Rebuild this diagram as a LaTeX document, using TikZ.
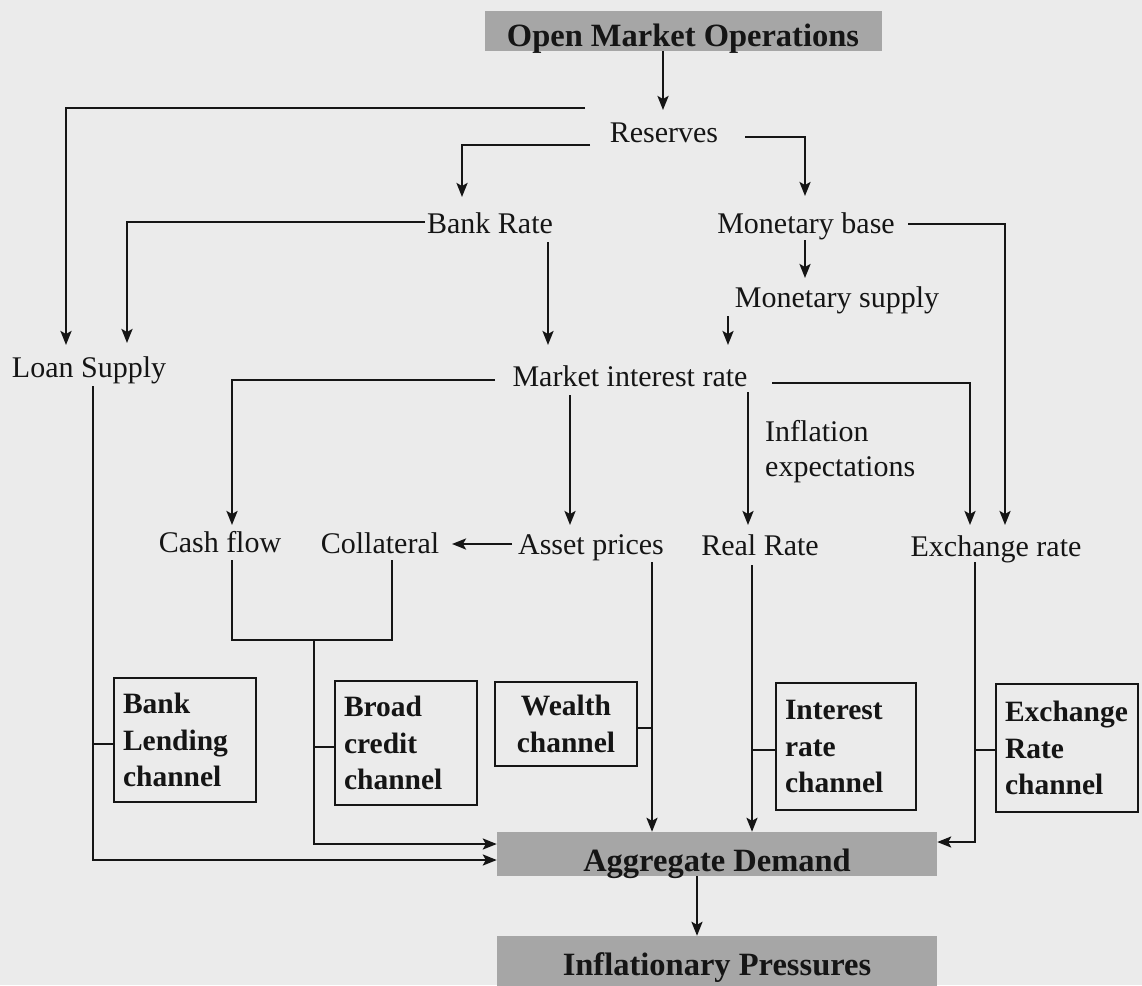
\documentclass[tikz,border=0pt]{standalone}
\usepackage{fontspec}
\setmainfont{Liberation Serif}
\usetikzlibrary{arrows.meta}
\definecolor{paper}{HTML}{EBEBEB}
\definecolor{boxgray}{HTML}{A6A6A6}
\definecolor{ink}{HTML}{151515}
\tikzset{
 lbl/.style={inner sep=0pt, anchor=base, font=\fontsize{30}{35}\selectfont, text=ink},
 graybox/.style={fill=boxgray, draw=none, inner xsep=0pt, inner ysep=0pt, text depth=0pt, font=\bfseries\fontsize{32.5}{38}\selectfont, text=ink},
 chan/.style={draw=ink, line width=2.8pt, inner xsep=9pt, inner ysep=0pt, align=left, font=\bfseries\fontsize{29.5}{36.5}\selectfont, text=ink},
 conn/.style={draw=ink, line width=2.4pt},
 arr/.style={conn, -{Stealth[length=14pt,width=11pt,inset=3pt]}},
}
\begin{document}
\begin{tikzpicture}[x=1pt,y=-1pt]
\fill[paper] (0,0) rectangle (1142,985);
\useasboundingbox (0,0) rectangle (1142,985);

% gray boxes
\node[graybox, minimum width=397pt, minimum height=40pt, text height=31pt] (omo) at (683,31) {Open Market Operations};
\node[graybox, minimum width=440pt, minimum height=44pt, text height=34pt] (ad) at (717,854) {Aggregate Demand};
\node[graybox, minimum width=440pt, minimum height=58pt, text height=20pt] (ip) at (717,965) {Inflationary Pressures};

% text nodes
\node[lbl] (res) at (664,142) {Reserves};
\node[lbl] (bank) at (490,233) {Bank Rate};
\node[lbl] (mbase) at (806,233) {Monetary base};
\node[lbl] (msup) at (837,307) {Monetary supply};
\node[lbl] (loan) at (89,377) {Loan Supply};
\node[lbl] (mir) at (630,386) {Market interest rate};
\node[lbl, anchor=west, align=left] (infl) at (765,452) {Inflation\\expectations};
\node[lbl] (cash) at (220,552) {Cash flow};
\node[lbl] (coll) at (380,553) {Collateral};
\node[lbl] (asset) at (591,554) {Asset prices};
\node[lbl] (real) at (760,555) {Real Rate};
\node[lbl] (exch) at (996,556) {Exchange rate};

% channel boxes
\node[chan, minimum width=142pt, minimum height=124pt, text width=124pt] (blc) at (185,740) {Bank\\Lending\\channel};
\node[chan, minimum width=142pt, minimum height=124pt, text width=124pt] (bcc) at (406,743) {Broad\\credit\\channel};
\node[chan, minimum width=142pt, minimum height=84pt, text width=124pt, align=center] (wc) at (566,724) {Wealth\\channel};
\node[chan, minimum width=140pt, minimum height=127pt, text width=122pt] (irc) at (846,746.5) {Interest\\rate\\channel};
\node[chan, minimum width=142pt, minimum height=128pt, text width=124pt] (erc) at (1067,748) {Exchange\\Rate\\channel};

\coordinate (bj) at (314,640);

% connectors
\draw[arr] ([xshift=-20pt]omo.south) -- ([shift={(-1,-32)}]res.base);
\draw[arr] ([shift={(-79,-34)}]res.base) -| ([shift={(-23,-32)}]loan.base);
\draw[arr] ([shift={(-74,3)}]res.base) -| ([shift={(-28,-36)}]bank.base);
\draw[arr] ([shift={(81,-5)}]res.base) -| ([shift={(-1,-37)}]mbase.base);
\draw[arr] ([shift={(-65,-11)}]bank.base) -| ([shift={(38,-34)}]loan.base);
\draw[arr] ([shift={(58,9)}]bank.base) -- ([shift={(-82,-41)}]mir.base);
\draw[arr] ([shift={(-1,7)}]mbase.base) -- ([shift={(-32,-29)}]msup.base);
\draw[arr] ([shift={(102,-9)}]mbase.base) -| ([shift={(9,-31)}]exch.base);
\draw[arr] ([shift={(-109,9)}]msup.base) -- ([shift={(98,-41)}]mir.base);
\draw[arr] ([shift={(-135,-6)}]mir.base) -| ([shift={(12,-27)}]cash.base);
\draw[arr] ([shift={(-60,9)}]mir.base) -- ([shift={(-21,-29)}]asset.base);
\draw[arr] ([shift={(118,6)}]mir.base) -- ([shift={(-12,-30)}]real.base);
\draw[arr] ([shift={(142,-3)}]mir.base) -| ([shift={(-26,-31)}]exch.base);
\draw[arr] ([shift={(-79,-10)}]asset.base) -- ([shift={(72,-9)}]coll.base);
\draw[conn] ([shift={(12,8)}]cash.base) |- ([shift={(12,87)}]coll.base) -- ([shift={(12,7)}]coll.base);
\draw[arr] (bj) |- ([yshift=10pt]ad.west);
\draw[arr] ([shift={(4,9)}]loan.base) |- ([yshift=-6pt]ad.west);
\draw[arr] ([shift={(61,8)}]asset.base) -- ([xshift=-65pt]ad.north);
\draw[arr] ([shift={(-8,10)}]real.base) -- ([xshift=35pt]ad.north);
\draw[arr] ([shift={(-21,6)}]exch.base) |- ([yshift=12pt]ad.east);
\draw[arr] ([xshift=-20pt]ad.south) -- ([xshift=-20pt]ip.north);

% ticks from channel boxes
\draw[conn] ([yshift=-4pt]blc.west) -- ++(-21,0);
\draw[conn] ([yshift=-4pt]bcc.west) -- ++(-20,0);
\draw[conn] ([yshift=-4pt]wc.east) -- ++(15,0);
\draw[conn] ([yshift=-3.5pt]irc.west) -- ++(-23,0);
\draw[conn] ([yshift=-2pt]erc.west) -- ++(-21,0);
\end{tikzpicture}
\end{document}
